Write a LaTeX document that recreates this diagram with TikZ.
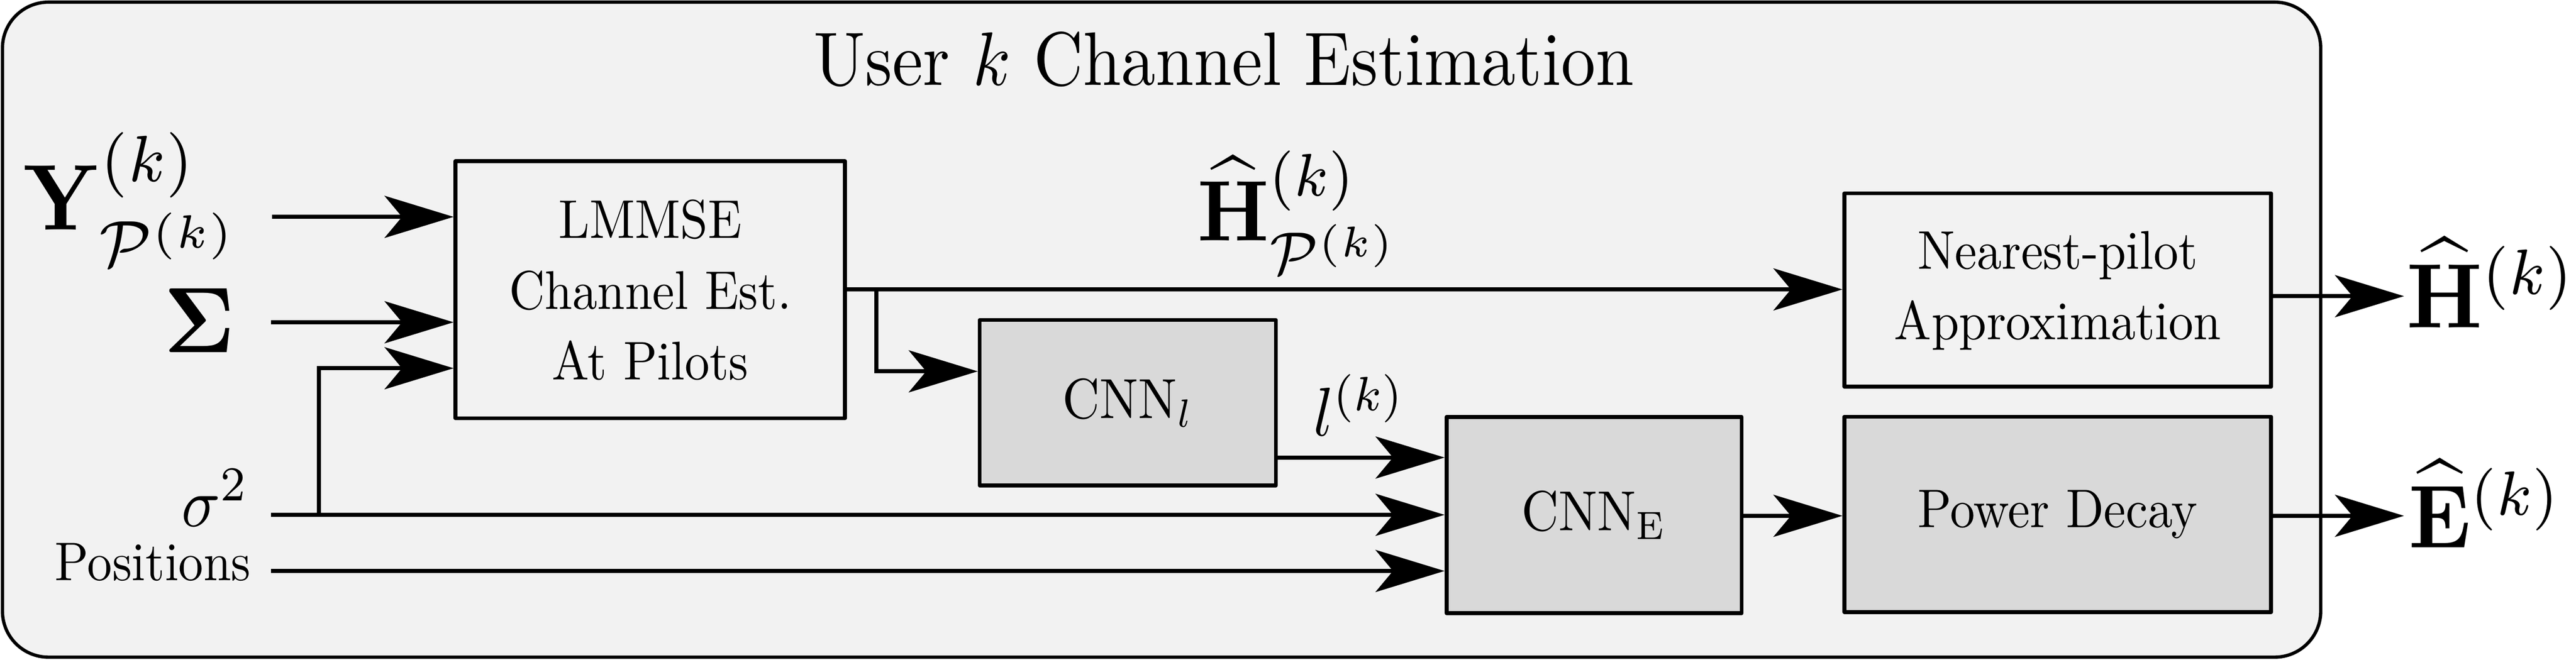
\documentclass[tikz,border=0pt]{standalone}
\usepackage{amsmath}
\usepackage{graphicx}
\usetikzlibrary{arrows.meta}
\definecolor{bgc}{RGB}{242,242,242}
\definecolor{boxg}{RGB}{217,217,217}
\newcommand{\sbx}[3]{\scalebox{#1}[#2]{#3}}
\newcommand{\btxt}[1]{\sbx{1.51}{1.66}{#1}}
\begin{document}
\begin{tikzpicture}[x=0.5pt,y=-0.5pt,
  blk/.style={draw, line width=1.2pt, line join=round, inner sep=0pt},
  arr/.style={line width=1.25pt, -{Stealth[length=21pt,width=12.8pt,inset=5.3pt]}},
  lab/.style={inner sep=0pt, font=\fontsize{10}{12.5}\selectfont}]
\useasboundingbox (0,0) rectangle (1568,402);
\draw[line width=1.0pt, fill=bgc, rounded corners=14pt] (1.5,1.3) rectangle (1412.6,400.3);

\node[lab, anchor=base] (title) at (745,51.9) {\sbx{2.09}{2.31}{User $k$ Channel Estimation}};

% blocks
\node[blk, fill=bgc, minimum width=118.5pt, minimum height=78.3pt] (lmmse) at (395.8,176.5) {};
\node[lab] (lmmsetxt) at (395.8,179.6)
  {\btxt{\def\arraystretch{1.04}\begin{tabular}{@{}c@{}}LMMSE\\Channel Est.\\At Pilots\end{tabular}}};
\node[blk, lab, fill=bgc, minimum width=129.85pt, minimum height=58.9pt] (near) at (1252.55,176.7)
  {\btxt{\def\arraystretch{1.04}\begin{tabular}{@{}c@{}}Nearest-pilot\\Approximation\end{tabular}}};
\node[blk, lab, fill=boxg, minimum width=90.15pt, minimum height=50.4pt] (cnnl) at (686.5,245.3)
  {\sbx{1.57}{1.72}{CNN$_l$}};
\node[blk, lab, fill=boxg, minimum width=89.8pt, minimum height=59.75pt] (cnne) at (970.3,313.75)
  {\sbx{1.57}{1.72}{CNN$_\mathrm{E}$}};
\node[blk, lab, fill=boxg, minimum width=129.85pt, minimum height=59.5pt] (power) at (1252.55,313.3)
  {\btxt{Power Decay}};

% labels
\node[lab, anchor=base west] (ylab) at (14,140.1) {\sbx{2.62}{2.85}{$\mathbf{Y}^{(k)}_{\mathcal{P}^{(k)}}$}};
\node[lab, anchor=base east] (siglab) at (143.5,214.7) {\sbx{2.6}{2.83}{$\mathbf{\Sigma}$}};
\node[lab, anchor=base east] (sglab) at (152,320.5) {\sbx{1.95}{2.12}{$\sigma^2$}};
\node[lab, anchor=base east] (plab) at (153,353.7) {\btxt{Positions}};
\node[lab, anchor=base west] (hplab) at (728.5,146.5) {\sbx{2.42}{2.62}{$\widehat{\mathbf{H}}^{(k)}_{\mathcal{P}^{(k)}}$}};
\node[lab, anchor=base west] (llab) at (799,265.4) {\sbx{1.95}{2.1}{$l^{(k)}$}};
\node[lab, anchor=base west] (hlab) at (1464.5,199.5) {\sbx{2.56}{2.79}{$\widehat{\mathbf{H}}^{(k)}$}};
\node[lab, anchor=base west] (elab) at (1465.7,333.4) {\sbx{2.5}{2.72}{$\widehat{\mathbf{E}}^{(k)}$}};

% coordinates
\coordinate (yin) at (165.7,132.1);
\coordinate (sin) at (165,196.3);
\coordinate (sgin) at (165,313.6);
\coordinate (sgb) at (194,313.6);
\coordinate (sgt) at (194,224.3);
\coordinate (pin) at (165,347.8);
\coordinate (brx) at (533.3,176.3);
\coordinate (bry) at (533.3,226.2);
\coordinate (lo) at (700,278.7);
\coordinate (hend) at (1463.3,180.4);
\coordinate (eend) at (1463.3,314.2);

% connectors
\draw[arr] (yin) -- (yin -| lmmse.west);
\draw[arr] (sin) -- (sin -| lmmse.west);
\draw[arr] (sgb) -- (sgt) -- (sgt -| lmmse.west);
\draw[arr] (sgin) -- (sgin -| cnne.west);
\draw[arr] (pin) -- (pin -| cnne.west);
\draw[arr] (lmmse.east |- brx) -- (brx -| near.west);
\draw[arr] (brx) -- (bry) -- (bry -| cnnl.west);
\draw[arr] (lo -| cnnl.east) -- (lo -| cnne.west);
\draw[arr] (cnne.east |- eend) -- (eend -| power.west);
\draw[arr] (near.east |- hend) -- (hend);
\draw[arr] (power.east |- eend) -- (eend);
\end{tikzpicture}
\end{document}
